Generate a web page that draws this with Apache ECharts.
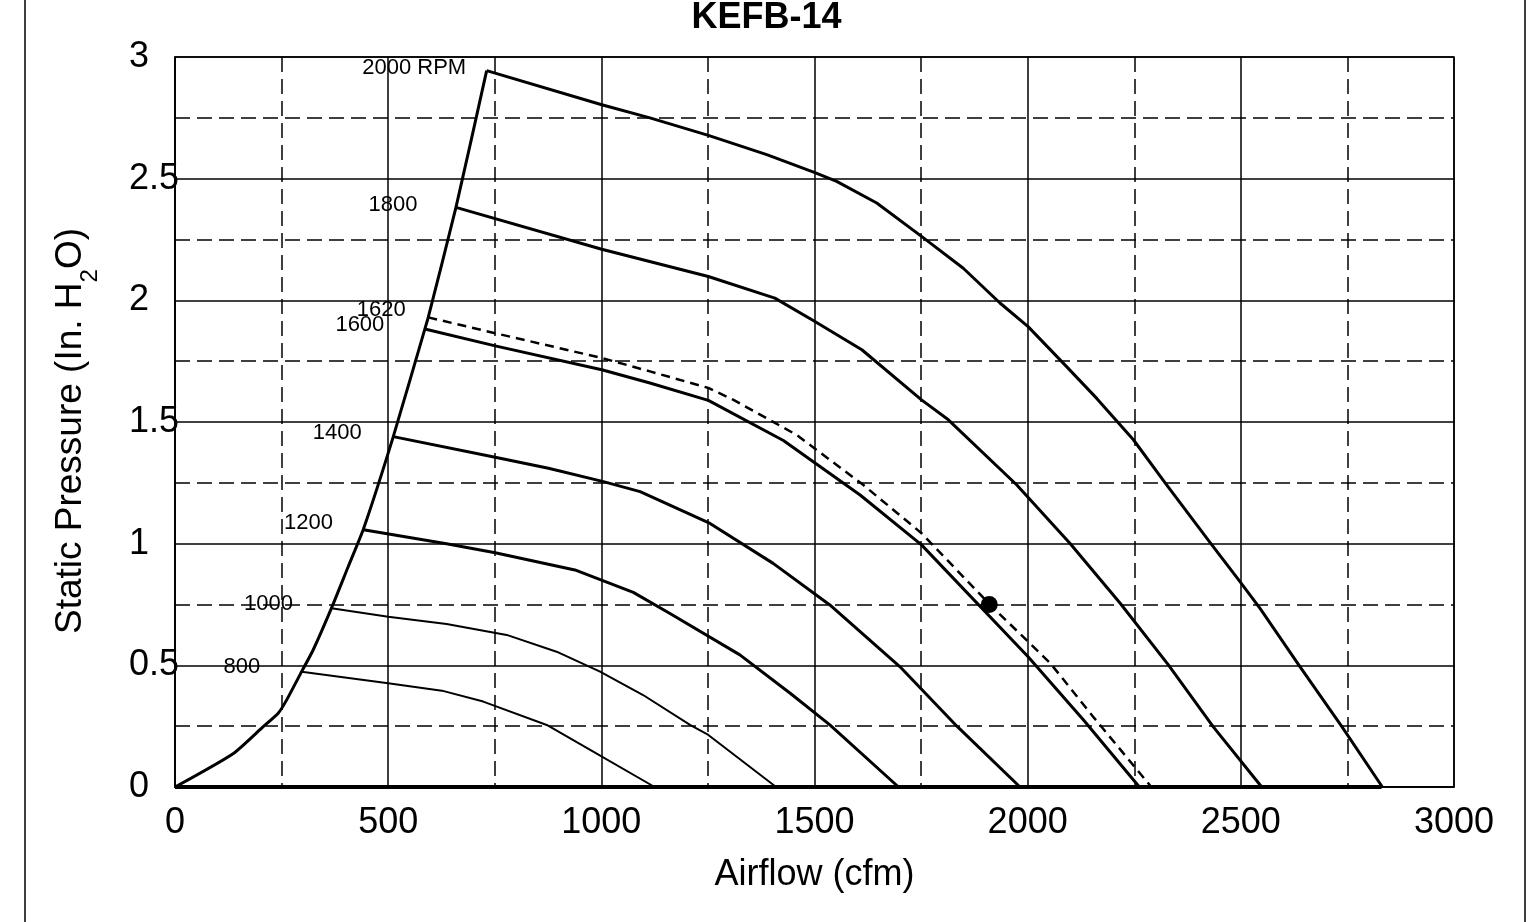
<!DOCTYPE html>
<html><head><meta charset="utf-8">
<script src="https://cdn.jsdelivr.net/npm/echarts@6/dist/echarts.min.js"></script>
<style>html,body{margin:0;padding:0;background:#fff}#c{width:1533px;height:922px}</style>
</head><body><div id="c"></div><script>
const chartTitle = 'KEFB-14';
const xName = 'Airflow (cfm)';
const yName = 'Static Pressure (In. H{s|2}O)';

// fan system envelope (left boundary)
const envelope = [[0,0],[137,0.138],[207,0.248],[242,0.303],[262,0.358],[297,0.474],[324,0.563],[367,0.735],[405,0.9],[442,1.06],[512,1.44],[586,1.882],[594,1.93],[659,2.382],[731,2.944]];

const rpm2000 = [[731,2.944],[1001,2.804],[1114,2.75],[1251,2.678],[1388,2.599],[1501,2.525],[1552,2.489],[1646,2.40],[1751,2.263],[1849,2.132],[1935,1.989],[2001,1.892],[2084,1.741],[2162,1.597],[2248,1.427],[2322,1.251],[2432,0.995],[2498,0.844],[2545,0.734],[2639,0.494],[2737,0.248],[2832,0]];
const rpm1800 = [[659,2.382],[1001,2.21],[1251,2.098],[1407,2.009],[1501,1.913],[1611,1.797],[1751,1.591],[1814,1.509],[1974,1.242],[2099,1.002],[2217,0.755],[2330,0.502],[2435,0.248],[2549,0]];
const rpm1620 = [[594,1.93],[751,1.865],[1001,1.763],[1114,1.708],[1251,1.64],[1310,1.591],[1458,1.447],[1614,1.242],[1751,1.043],[1910,0.752],[2053,0.509],[2154,0.288],[2290,0]];
const rpm1600 = [[586,1.882],[751,1.813],[1001,1.715],[1114,1.66],[1251,1.589],[1427,1.424],[1607,1.20],[1751,0.995],[2001,0.535],[2131,0.275],[2262,0]];
const rpm1400 = [[512,1.44],[751,1.355],[876,1.31],[1005,1.255],[1091,1.214],[1255,1.083],[1403,0.919],[1536,0.748],[1700,0.495],[1834,0.25],[1982,0]];
const rpm1200 = [[442,1.057],[637,1.0],[751,0.963],[938,0.892],[1075,0.80],[1161,0.713],[1325,0.543],[1443,0.385],[1536,0.255],[1697,0]];
const rpm1000 = [[367,0.735],[500,0.70],[637,0.67],[778,0.625],[895,0.556],[997,0.474],[1098,0.378],[1208,0.255],[1251,0.214],[1410,0]];
const rpm800  = [[297,0.474],[500,0.426],[626,0.396],[723,0.351],[872,0.255],[981,0.145],[1125,0]];
const zeroLine = [[0,0],[2830,0]];
const operatingPoint = [[1910,0.75]];

const curveNames = ['2000 RPM','1800','1620','1600','1400','1200','1000','800'];
const curveData  = [rpm2000, rpm1800, rpm1620, rpm1600, rpm1400, rpm1200, rpm1000, rpm800];

// styling (not data)
const curveWidth = [3,3,2.5,3,3,3,2,2];
const curveDash  = ['solid','solid',[9,6],'solid','solid','solid','solid','solid'];
const labelDist  = [20,38,22,40,31,30,38,41];
const labelUp    = [3,2,7,4,4,7,4,5];

const FONT = "'Liberation Sans', Arial, sans-serif";
const chart = echarts.init(document.getElementById('c'), null, {renderer:'canvas'});

const series = [];
series.push({type:'line', data: envelope, showSymbol:false, symbol:'none', smooth:0.2,
  lineStyle:{color:'#000', width:3, join:'round'}, z:5, silent:true});
curveData.forEach((d,i)=>{
  series.push({type:'line', name: curveNames[i], showSymbol:false, symbol:'none', silent:true,
    lineStyle:{color:'#000', width:curveWidth[i], type:curveDash[i], join:'round'}, z:5, data: d});
});
// curve labels anchored at each curve's first point
series.push({type:'scatter', silent:true, symbolSize:1, itemStyle:{color:'rgba(0,0,0,0)', opacity:1}, z:8,
  data: curveData.map((d,i)=>({value:d[0], label:{show:true, position:'left', distance:labelDist[i],
    offset:[0,-labelUp[i]], formatter: curveNames[i], color:'#000', fontSize:22, fontFamily:FONT}}))
});
series.push({type:'line', data: zeroLine, symbol:'none', lineStyle:{color:'#000', width:4}, z:6, silent:true});
series.push({type:'scatter', data: operatingPoint, symbolSize:17, itemStyle:{color:'#000', opacity:1}, z:7, silent:true});

const dash = [15,7];
chart.setOption({
  animation:false,
  backgroundColor:'#fff',
  title:{text:chartTitle, left:'center', top:0, padding:0,
    textStyle:{fontSize:36, fontWeight:'bold', color:'#000', fontFamily:FONT}},
  grid:{left:175, top:57, width:1279, height:730, show:true, borderColor:'#000', borderWidth:1.5, backgroundColor:'transparent'},
  xAxis:{type:'value', min:0, max:3000, interval:500,
    name:xName, nameLocation:'middle', nameGap:70,
    nameTextStyle:{fontSize:36, color:'#000', fontFamily:FONT},
    axisLine:{show:true, lineStyle:{color:'#000', width:1.5}},
    axisTick:{show:false},
    axisLabel:{fontSize:36, color:'#000', margin:18, fontFamily:FONT, formatter:(v)=>String(v)},
    splitLine:{show:true, lineStyle:{color:'#000', width:1.5}},
    minorTick:{show:false, splitNumber:2},
    minorSplitLine:{show:true, lineStyle:{color:'#000', width:1.5, type:dash}}
  },
  yAxis:{type:'value', min:0, max:3, interval:0.5,
    name:yName, nameLocation:'middle', nameGap:73, nameRotate:90,
    nameTextStyle:{fontSize:37, color:'#000', fontFamily:FONT, lineHeight:62, padding:[0,18,0,0],
      rich:{s:{fontSize:24, lineHeight:24, verticalAlign:'bottom', color:'#000', fontFamily:FONT}}},
    axisLine:{show:true, lineStyle:{color:'#000', width:1.5}},
    axisTick:{show:false},
    axisLabel:{fontSize:36, color:'#000', margin:46, align:'left', fontFamily:FONT, formatter:(v)=>String(v)},
    splitLine:{show:true, lineStyle:{color:'#000', width:1.5}},
    minorTick:{show:false, splitNumber:2},
    minorSplitLine:{show:true, lineStyle:{color:'#000', width:1.5, type:dash}}
  },
  graphic:[
    {type:'line', shape:{x1:25, y1:0, x2:25, y2:922}, style:{stroke:'#000', lineWidth:1.5}, silent:true},
    {type:'line', shape:{x1:1525, y1:0, x2:1525, y2:922}, style:{stroke:'#000', lineWidth:1.5}, silent:true}
  ],
  series: series
});
</script></body></html>
